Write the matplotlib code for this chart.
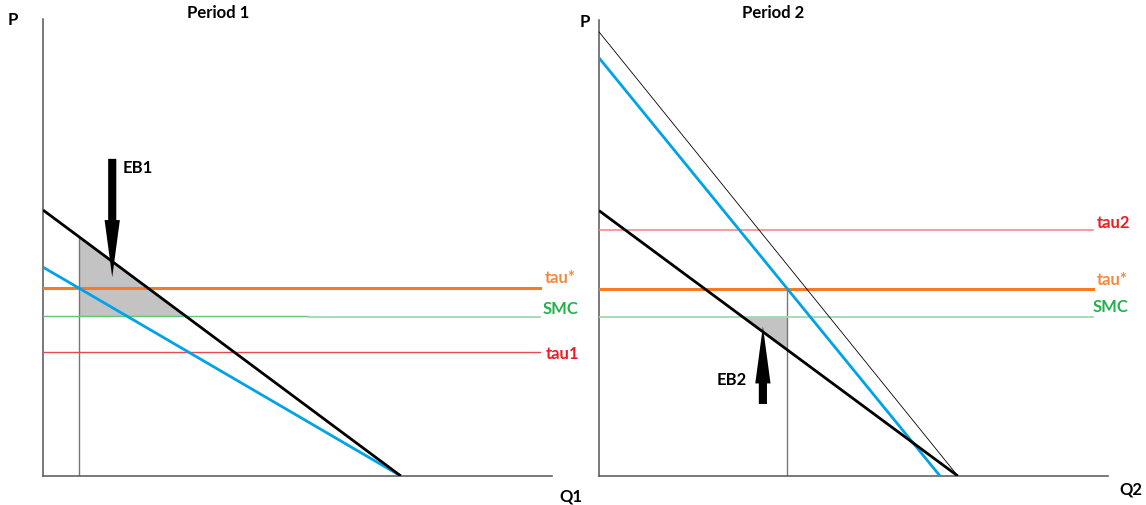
import matplotlib
matplotlib.use("Agg")
import matplotlib.pyplot as plt
from matplotlib.patches import FancyArrow, Polygon
import numpy as np

# ---------------- data (economic units, axes 0..100) ----------------
# Period 1
p1_demand_int = 58.2      # black demand, price intercept
p1_mb_int = 45.7          # blue curve, price intercept
p1_q_int = 70.3           # common quantity intercept
p1_tau_star = 41.1
p1_smc = 34.8
p1_tau1 = 27.1
p1_line_end = 97.6
p1_smc_break = 52.0
p1_arrow = [13.6, 69.4, 43.5]   # x, start P, tip P

# Period 2
p2_thin_int = 97.4
p2_thin_q = 70.5
p2_blue_int = 91.7
p2_blue_q = 67.0
p2_demand_int = 58.2
p2_demand_q = 70.5
p2_tau2 = 54.0
p2_tau_star = 41.1
p2_smc = 34.8
p2_line_end = 97.1
p2_arrow = [32.2, 15.8, 32.8]

BLUE = "#00A2E8"
ORANGE = "#F97A22"
GREEN_TXT = "#22B14C"
GREEN_LINE = "#5FC67C"
GREEN_LIGHT = "#9BDBAC"
RED = "#ED1C24"
RED_LINE = "#E64A4F"
RED_LIGHT = "#F38A8D"
GRAYFILL = "#C3C3C3"

FONT = ["Lato", "DejaVu Sans"]

W, H = 1146, 506
fig = plt.figure(figsize=(W / 100, H / 100), dpi=100)


def add_axes(x0, x1, ytop, ybot):
    ax = fig.add_axes([x0 / W, 1 - ybot / H, (x1 - x0) / W, (ybot - ytop) / H])
    ax.set_xlim(0, 100)
    ax.set_ylim(0, 100)
    for s in ["top", "right"]:
        ax.spines[s].set_visible(False)
    for s in ["left", "bottom"]:
        ax.spines[s].set_color("#555555")
        ax.spines[s].set_linewidth(1.1)
    ax.set_xticks([])
    ax.set_yticks([])
    ax.patch.set_alpha(0)
    return ax


def line(ax, p_int, q_int, **kw):
    ax.plot([0, q_int], [p_int, 0], solid_capstyle="butt", **kw)


def demand(p_int, q_int, q):
    return p_int * (1 - q / q_int)


def arrow(ax, spec):
    x, y0, y1 = spec
    ax.add_patch(FancyArrow(x, y0, 0, y1 - y0, width=1.6, head_width=3.0,
                            head_length=12.5, length_includes_head=True,
                            color="black", zorder=6, lw=0))


# ---------------- Period 1 ----------------
ax1 = add_axes(43, 552, 20, 477)
q1_star = p1_q_int * (1 - p1_tau_star / p1_mb_int)
q1_smc = p1_q_int * (1 - p1_smc / p1_demand_int)
ax1.add_patch(Polygon([[q1_star, demand(p1_demand_int, p1_q_int, q1_star)],
                       [q1_star, p1_smc], [q1_smc, p1_smc]],
                      closed=True, facecolor=GRAYFILL, edgecolor="none", zorder=1))
ax1.plot([q1_star, q1_star], [0, demand(p1_demand_int, p1_q_int, q1_star)],
         color="#777777", lw=1.0, zorder=2)
ax1.plot([0, p1_line_end], [p1_tau_star] * 2, color=ORANGE, lw=2.2, zorder=3)
ax1.plot([0, p1_smc_break], [p1_smc + 0.15] * 2, color=GREEN_LINE, lw=1.0, zorder=3)
ax1.plot([p1_smc_break, p1_line_end], [p1_smc - 0.1] * 2, color=GREEN_LIGHT, lw=1.3, zorder=3)
ax1.plot([0, p1_line_end], [p1_tau1] * 2, color=RED_LINE, lw=1.0, zorder=3)
line(ax1, p1_mb_int, p1_q_int, color=BLUE, lw=2.0, zorder=4)
line(ax1, p1_demand_int, p1_q_int, color="black", lw=2.0, zorder=5)
arrow(ax1, p1_arrow)

# ---------------- Period 2 ----------------
ax2 = add_axes(599, 1108, 21, 477)
q2_star = p2_blue_q * (1 - p2_tau_star / p2_blue_int)
q2_smc = p2_demand_q * (1 - p2_smc / p2_demand_int)
ax2.add_patch(Polygon([[q2_smc, p2_smc], [q2_star, p2_smc],
                       [q2_star, demand(p2_demand_int, p2_demand_q, q2_star)]],
                      closed=True, facecolor=GRAYFILL, edgecolor="none", zorder=1))
ax2.plot([q2_star, q2_star], [0, p2_tau_star], color="#777777", lw=1.0, zorder=2)
ax2.plot([0, p2_line_end], [p2_tau2] * 2, color=RED_LIGHT, lw=1.2, zorder=3)
ax2.plot([0, p2_line_end], [p2_tau_star] * 2, color=ORANGE, lw=2.2, zorder=3)
ax2.plot([0, p2_line_end], [p2_smc] * 2, color=GREEN_LIGHT, lw=1.3, zorder=3)
line(ax2, p2_thin_int, p2_thin_q, color="black", lw=0.6, zorder=4)
line(ax2, p2_blue_int, p2_blue_q, color=BLUE, lw=2.0, zorder=4)
line(ax2, p2_demand_int, p2_demand_q, color="black", lw=2.0, zorder=5)
arrow(ax2, p2_arrow)


# ---------------- text ----------------
def ftext(x, y, s, color="black", ha="left", size=12):
    fig.text(x / W, 1 - y / H, s, color=color, ha=ha, va="center",
             fontsize=size, fontweight="bold", family=FONT)


ftext(218, 13, "Period 1", ha="center")
ftext(773, 13, "Period 2", ha="center")
ftext(13, 20, "P", ha="center")
ftext(585, 22, "P", ha="center")
ftext(571, 497, "Q1", ha="center")
ftext(1131, 490, "Q2", ha="center")
ftext(123, 168, "EB1")
ftext(717, 380, "EB2")
ftext(545, 278, "tau*", color="#F7883A")
ftext(543, 309, "SMC", color=GREEN_TXT)
ftext(546, 354, "tau1", color=RED)
ftext(1097, 223, "tau2", color=RED)
ftext(1097, 280, "tau*", color="#F7883A")
ftext(1093, 307, "SMC", color=GREEN_TXT)

fig.savefig("out.png", dpi=100)
